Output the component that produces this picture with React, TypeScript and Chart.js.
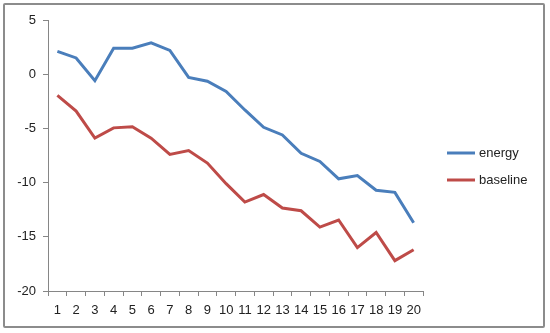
import React, { useEffect, useRef } from "react";
import { Chart, registerables } from "chart.js";

Chart.register(...registerables);

const categories = ["1","2","3","4","5","6","7","8","9","10","11","12","13","14","15","16","17","18","19","20"];
const energy = [2.1, 1.5, -0.6, 2.4, 2.4, 2.9, 2.2, -0.3, -0.65, -1.6, -3.3, -4.9, -5.6, -7.3, -8.05, -9.65, -9.35, -10.7, -10.9, -13.7];
const baseline = [-1.95, -3.4, -5.9, -4.95, -4.85, -5.9, -7.4, -7.05, -8.2, -10.1, -11.8, -11.1, -12.35, -12.6, -14.1, -13.45, -16.0, -14.6, -17.2, -16.2];
const seriesNames = ["energy", "baseline"];
const seriesColors = ["#4a7ebb", "#be4b48"];

const FONT = "'Liberation Sans', Arial, sans-serif";

const legendPlugin = {
  id: "customLegend",
  afterDraw(chart: any) {
    const ctx = chart.ctx;
    ctx.save();
    chart.data.datasets.forEach((ds: any, i: number) => {
      const y = 153 + i * 27;
      ctx.strokeStyle = ds.borderColor;
      ctx.lineWidth = 3;
      ctx.beginPath();
      ctx.moveTo(447, y);
      ctx.lineTo(475, y);
      ctx.stroke();
      ctx.fillStyle = "#222222";
      ctx.font = "13px " + FONT;
      ctx.textBaseline = "middle";
      ctx.textAlign = "left";
      ctx.fillText(ds.label, 479, y);
    });
    ctx.restore();
  },
};

export default function App() {
  const ref = useRef<HTMLCanvasElement>(null);
  useEffect(() => {
    document.body.style.margin = "0";
    const chart = new Chart(ref.current!, {
      type: "line",
      data: {
        labels: categories,
        datasets: [
          { label: seriesNames[0], data: energy, borderColor: seriesColors[0], borderWidth: 3, pointRadius: 0, tension: 0, fill: false },
          { label: seriesNames[1], data: baseline, borderColor: seriesColors[1], borderWidth: 3, pointRadius: 0, tension: 0, fill: false },
        ],
      },
      options: {
        responsive: false,
        animation: false,
        layout: { padding: { left: 0, right: 127, top: 20, bottom: 0 } },
        plugins: { legend: { display: false }, tooltip: { enabled: false } },
        scales: {
          x: {
            offset: true,
            grid: { offset: true, drawOnChartArea: false, drawTicks: true, tickLength: 5, color: "#868686" },
            border: { color: "#868686", width: 1 },
            ticks: { color: "#222222", font: { size: 13, family: FONT }, padding: 7, maxRotation: 0, autoSkip: false },
            afterFit: (s: any) => { s.height = 42; },
          },
          y: {
            min: -20,
            max: 5,
            grid: { drawOnChartArea: false, drawTicks: true, tickLength: 5, color: "#868686" },
            border: { color: "#868686", width: 1 },
            ticks: { stepSize: 5, color: "#222222", font: { size: 13, family: FONT }, padding: 7 },
            afterFit: (s: any) => { s.width = 48; },
          },
        },
      },
      plugins: [legendPlugin],
    });
    return () => chart.destroy();
  }, []);
  return (
    <div style={{ position: "relative", width: 550, height: 333 }}>
      <canvas ref={ref} width={550} height={333} style={{ display: "block" }} />
      <div style={{ position: "absolute", left: 3, top: 3, width: 538, height: 321, border: "2px solid #8c8c8c", borderRadius: 2, pointerEvents: "none" }} />
    </div>
  );
}
